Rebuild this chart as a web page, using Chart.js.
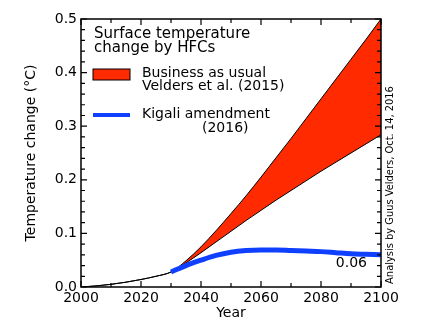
<!DOCTYPE html>
<html>
<head>
<meta charset="utf-8">
<script src="https://cdn.jsdelivr.net/npm/chart.js@4/dist/chart.umd.min.js"></script>
<style>
  body { margin: 0; background: #fff; }
  #wrap { width: 426px; height: 326px; }
</style>
</head>
<body>
<div id="wrap"><canvas id="hfcChart"></canvas></div>
<script>
// Data
const years = [2000, 2005, 2010, 2015, 2020, 2025, 2030, 2035, 2040, 2045, 2050,
               2055, 2060, 2065, 2070, 2075, 2080, 2085, 2090, 2095, 2100];
const bauHigh = [0, 0.002, 0.005, 0.009, 0.014, 0.02, 0.028, 0.049, 0.075, 0.105, 0.137,
                 0.17, 0.205, 0.241, 0.277, 0.314, 0.351, 0.388, 0.425, 0.462, 0.5];
const bauLow = [0, 0.002, 0.005, 0.009, 0.014, 0.02, 0.028, 0.045, 0.064, 0.084, 0.104,
                0.124, 0.143, 0.162, 0.18, 0.198, 0.216, 0.233, 0.25, 0.267, 0.284];
const kigaliYears = [2030, 2035, 2040, 2045, 2050, 2055, 2060, 2065, 2070, 2075, 2080,
                     2085, 2090, 2095, 2100];
const kigali = [0.028, 0.04, 0.05, 0.059, 0.065, 0.068, 0.069, 0.069, 0.068, 0.067, 0.066,
                0.064, 0.062, 0.061, 0.06];
const yTicks = [0, 0.1, 0.2, 0.3, 0.4, 0.5];
const xTicks = [2000, 2020, 2040, 2060, 2080, 2100];

const legendTitle = ['Surface temperature', 'change by HFCs'];
const bauLabel = ['Business as usual', 'Velders et al. (2015)'];
const kigaliLabel = ['Kigali amendment', '(2016)'];
const endLabel = '0.06';
const credit = 'Analysis by Guus Velders, Oct. 14, 2016';

const RED = '#ff2a00';
const BLUE = '#1040ff';
const FONT = '"DejaVu Sans", sans-serif';

const toPoints = (xs, ys) => xs.map((x, i) => ({ x: x, y: ys[i] }));

// frame, inward ticks, legend and notes
const decorations = {
  id: 'decorations',
  afterDraw(chart) {
    const { ctx, chartArea: a, scales: { x, y } } = chart;
    ctx.save();
    ctx.strokeStyle = '#000';
    ctx.lineWidth = 1.5;
    ctx.strokeRect(a.left, a.top, a.right - a.left, a.bottom - a.top);

    ctx.lineWidth = 1.2;
    ctx.beginPath();
    for (let yr = 2000; yr <= 2100; yr += 10) {
      const px = x.getPixelForValue(yr);
      const len = yr % 20 === 0 ? 6 : 4;
      ctx.moveTo(px, a.bottom); ctx.lineTo(px, a.bottom - len);
      ctx.moveTo(px, a.top); ctx.lineTo(px, a.top + len);
    }
    for (let k = 0; k <= 25; k++) {
      const py = y.getPixelForValue(k * 0.02);
      const len = k % 5 === 0 ? 6 : 4;
      ctx.moveTo(a.left, py); ctx.lineTo(a.left + len, py);
      ctx.moveTo(a.right, py); ctx.lineTo(a.right - len, py);
    }
    ctx.stroke();

    // legend
    const lx = a.left + 12;
    ctx.fillStyle = '#000';
    ctx.textAlign = 'left';
    ctx.textBaseline = 'alphabetic';
    ctx.font = '15px ' + FONT;
    ctx.fillText(legendTitle[0], lx + 1, a.top + 19);
    ctx.fillText(legendTitle[1], lx + 1, a.top + 33);

    ctx.fillStyle = RED;
    ctx.fillRect(lx, a.top + 50, 37, 11);
    ctx.lineWidth = 1;
    ctx.strokeRect(lx, a.top + 50, 37, 11);

    ctx.strokeStyle = BLUE;
    ctx.lineWidth = 4;
    ctx.beginPath();
    ctx.moveTo(lx, a.top + 96); ctx.lineTo(lx + 37, a.top + 96);
    ctx.stroke();

    ctx.fillStyle = '#000';
    ctx.font = '14px ' + FONT;
    ctx.fillText(bauLabel[0], lx + 49, a.top + 58);
    ctx.fillText(bauLabel[1], lx + 49, a.top + 71);
    ctx.fillText(kigaliLabel[0], lx + 49, a.top + 99);
    ctx.fillText(kigaliLabel[1], lx + 109, a.top + 113);

    // end value note
    ctx.textAlign = 'right';
    ctx.fillText(endLabel, x.getPixelForValue(2100) - 14, y.getPixelForValue(0.06) + 12);

    // credit along the right side
    ctx.font = '11px "DejaVu Sans Condensed", ' + FONT;
    ctx.textAlign = 'center';
    ctx.textBaseline = 'middle';
    ctx.translate(a.right + 9, 185);
    ctx.rotate(-Math.PI / 2);
    ctx.fillText(credit, 0, 0);
    ctx.restore();
  }
};

const ctx = document.getElementById('hfcChart').getContext('2d');
const hfcChart = new Chart(ctx, {
  type: 'line',
  data: {
    datasets: [
      {
        label: 'Kigali amendment',
        data: toPoints(kigaliYears, kigali),
        borderColor: BLUE,
        borderWidth: 5,
        borderCapStyle: 'butt',
        pointRadius: 0,
        cubicInterpolationMode: 'monotone',
        fill: false,
        order: 0
      },
      {
        label: 'Business as usual (high)',
        data: toPoints(years, bauHigh),
        borderColor: '#000',
        borderWidth: 1,
        backgroundColor: RED,
        pointRadius: 0,
        cubicInterpolationMode: 'monotone',
        fill: '+1',
        order: 1
      },
      {
        label: 'Business as usual (low)',
        data: toPoints(years, bauLow),
        borderColor: '#000',
        borderWidth: 1,
        pointRadius: 0,
        cubicInterpolationMode: 'monotone',
        fill: false,
        order: 2
      }
    ]
  },
  options: {
    responsive: true,
    maintainAspectRatio: false,
    animation: false,
    layout: { padding: { top: 19, right: 45, left: 0, bottom: 0 } },
    plugins: {
      legend: { display: false },
      tooltip: { enabled: false },
      filler: { drawTime: 'beforeDatasetsDraw' }
    },
    scales: {
      x: {
        type: 'linear',
        min: 2000,
        max: 2100,
        afterBuildTicks: (scale) => { scale.ticks = xTicks.map(v => ({ value: v })); },
        afterFit: (scale) => { scale.height = 39; },
        ticks: {
          color: '#000',
          font: { family: FONT, size: 14 },
          padding: 3,
          maxRotation: 0,
          callback: (v) => String(v)
        },
        grid: { display: false, drawTicks: false },
        border: { display: false },
        title: {
          display: true,
          text: 'Year',
          color: '#000',
          font: { family: FONT, size: 14 },
          padding: { top: 0, bottom: 4 }
        }
      },
      y: {
        min: 0,
        max: 0.5,
        afterBuildTicks: (scale) => { scale.ticks = yTicks.map(v => ({ value: v })); },
        afterFit: (scale) => { scale.width = 81; },
        ticks: {
          color: '#000',
          font: { family: FONT, size: 14 },
          padding: 4,
          callback: (v) => v.toFixed(1)
        },
        grid: { display: false, drawTicks: false },
        border: { display: false },
        title: {
          display: true,
          text: 'Temperature change (°C)',
          color: '#000',
          font: { family: FONT, size: 14 },
          padding: { top: 23, bottom: 0 }
        }
      }
    }
  },
  plugins: [decorations]
});
</script>
</body>
</html>
